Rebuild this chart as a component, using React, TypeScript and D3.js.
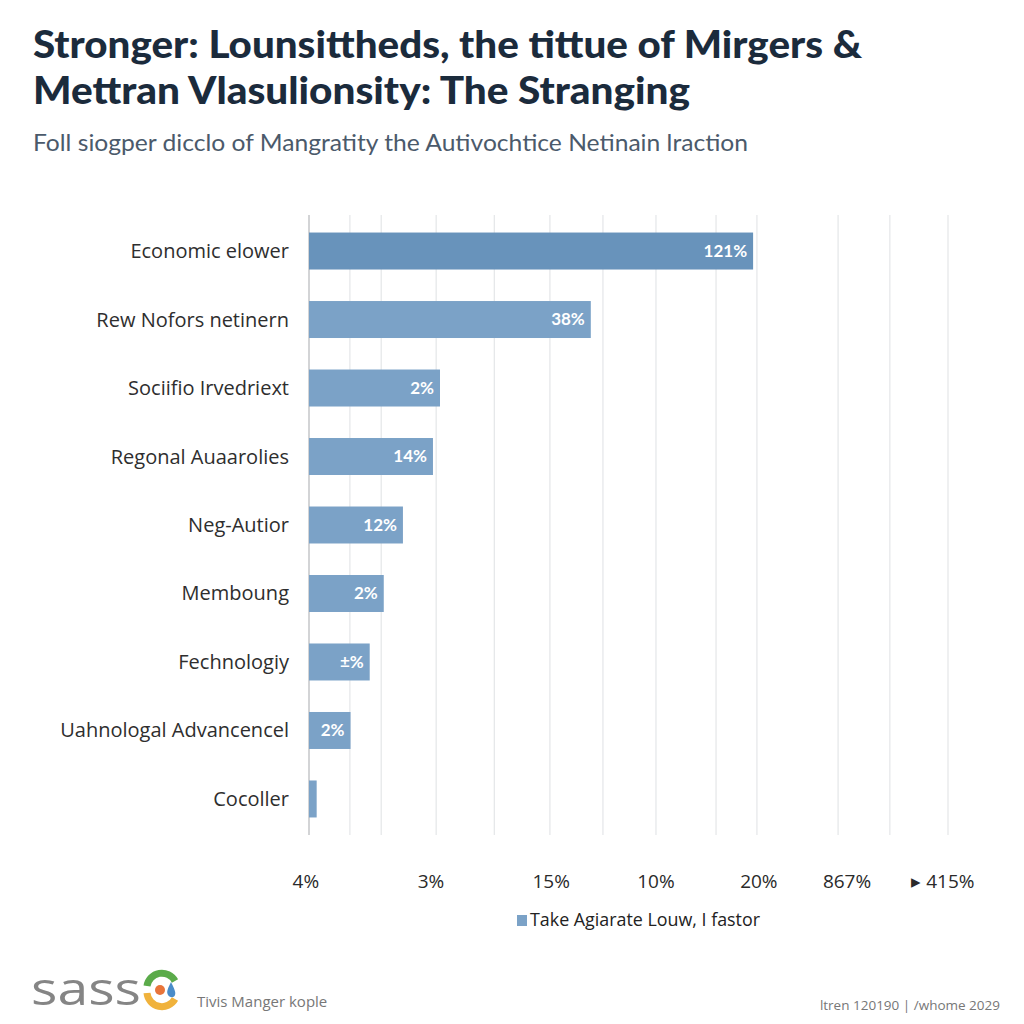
import React from "react";
import * as d3 from "d3";

// categories top to bottom
const categories = [
  "Economic elower",
  "Rew Nofors netinern",
  "Sociifio Irvedriext",
  "Regonal Auaarolies",
  "Neg-Autior",
  "Memboung",
  "Fechnologiy",
  "Uahnologal Advancencel",
  "Cocoller",
];

// bar lengths (chart units 0..100)
const barValues = [69.5, 44.1, 20.5, 19.4, 14.7, 11.7, 9.5, 6.5, 1.2];

// printed labels inside bars
const barLabels = ["121%", "38%", "2%", "14%", "12%", "2%", "\u00b1%", "2%", ""];

// vertical gridlines (chart units)
const gridValues = [6.4, 11.3, 19.9, 29, 37.7, 46, 54.3, 63.7, 70.1, 82.8, 90.9, 100];

// bottom tick labels and where they sit (chart units)
const tickLabels = ["4%", "3%", "15%", "10%", "20%", "867%", "\u25b8 415%"];
const tickPositions = [-0.5, 19.1, 37.9, 54.3, 70.4, 84.2, 99.2];

const title = [
  "Stronger: Lounsittheds, the tittue of Mirgers &",
  "Mettran Vlasulionsity: The Stranging",
];
const subtitle = "Foll siogper dicclo of Mangratity the Autivochtice Netinain lraction";
const legendLabel = "Take Agiarate Louw, I fastor";
const footLeft = "Tivis Manger kople";
const footRight = "ltren 120190  |  /whome 2029";

const initial = {
  width: 1024,
  height: 1024,
  left: 309,
  right: 948,
  top: 215,
  bottom: 835,
};

const sans = "Lato, 'Open Sans', 'Noto Sans', sans-serif";
const labelFont = "'Open Sans', 'Noto Sans', sans-serif";

const App = () => {
  const x = d3.scaleLinear().domain([0, 100]).range([initial.left, initial.right]);
  const y = d3
    .scaleBand<string>()
    .domain(categories)
    .range([initial.top, initial.bottom])
    .paddingInner(0.46)
    .paddingOuter(0.256);

  return (
    <svg
      width={initial.width}
      height={initial.height}
      style={{ position: "absolute", left: 0, top: 0, background: "#fff" }}
    >
      <rect x={0} y={0} width={initial.width} height={initial.height} fill="#fff" />

      {/* titles */}
      {title.map((t, i) => (
        <text
          key={i}
          x={33}
          y={58 + i * 46}
          fontFamily={sans}
          fontWeight="900"
          fontSize={37}
          fill="#1b2b3c"
          textLength={i === 0 ? 829 : 657}
          lengthAdjust="spacingAndGlyphs"
        >
          {t}
        </text>
      ))}
      <text
        x={33}
        y={151}
        fontFamily={sans}
        fontSize={23}
        fill="#4b5a6b"
        textLength={715}
        lengthAdjust="spacingAndGlyphs"
      >
        {subtitle}
      </text>

      {/* gridlines */}
      <g>
        {gridValues.map((g, i) => (
          <line
            key={i}
            x1={x(g)}
            x2={x(g)}
            y1={initial.top}
            y2={initial.bottom}
            stroke="#e4e6e8"
            strokeWidth={1.2}
          />
        ))}
        <line
          x1={x(0)}
          x2={x(0)}
          y1={initial.top}
          y2={initial.bottom}
          stroke="#c4c6c8"
          strokeWidth={1.5}
        />
      </g>

      {/* bars */}
      <g>
        {categories.map((c, i) => (
          <g key={c}>
            <rect
              x={x(0)}
              y={y(c)}
              width={x(barValues[i]) - x(0)}
              height={y.bandwidth()}
              fill={i === 0 ? "#6893bb" : "#7ba2c7"}
            />
            <text
              x={initial.left - 20}
              y={(y(c) as number) + y.bandwidth() / 2}
              dy="0.35em"
              textAnchor="end"
              fontFamily={labelFont}
              fontSize={20}
              fill="#2e2e2e"
            >
              {c}
            </text>
            {barLabels[i] && (
              <text
                x={x(barValues[i]) - 6}
                y={(y(c) as number) + y.bandwidth() / 2}
                dy="0.35em"
                textAnchor="end"
                fontFamily={sans}
                fontWeight="bold"
                fontSize={17}
                fill="#ffffff"
              >
                {barLabels[i]}
              </text>
            )}
          </g>
        ))}
      </g>

      {/* bottom tick labels */}
      {tickLabels.map((t, i) => (
        <text
          key={i}
          x={x(tickPositions[i])}
          y={888}
          textAnchor="middle"
          fontFamily={labelFont}
          fontSize={19}
          fill="#2a2a2a"
        >
          {t}
        </text>
      ))}

      {/* legend */}
      <rect x={517} y={915} width={10} height={11} fill="#7ba2c7" />
      <text
        x={530}
        y={926}
        fontFamily={labelFont}
        fontSize={18}
        fill="#222"
        textLength={230}
        lengthAdjust="spacingAndGlyphs"
      >
        {legendLabel}
      </text>

      {/* footer */}
      <text x={31} y={1005} fontFamily={labelFont} fontSize={46} fill="#858585" textLength={110} lengthAdjust="spacingAndGlyphs">
        sass
      </text>
      <g transform="translate(162,990)">
        <path d="M -15 -4 A 15 15 0 0 1 13 -9" stroke="#5bab4a" strokeWidth={7} fill="none" />
        <path d="M -15 3 A 15 15 0 0 0 13 9" stroke="#f0b23c" strokeWidth={7} fill="none" />
        <circle cx={-2} cy={0} r={5} fill="#e8743a" />
        <path d="M 9 -8 C 6 -2 4 2 6 5 C 8 8 12 8 13 5 C 14 2 12 -2 9 -8 Z" fill="#4a8cc9" />
      </g>
      <text x={197} y={1007} fontFamily={labelFont} fontSize={15} fill="#777">
        {footLeft}
      </text>
      <text x={1000} y={1010} textAnchor="end" fontFamily={labelFont} fontSize={13.5} fill="#777">
        {footRight}
      </text>
    </svg>
  );
};

export default App;
